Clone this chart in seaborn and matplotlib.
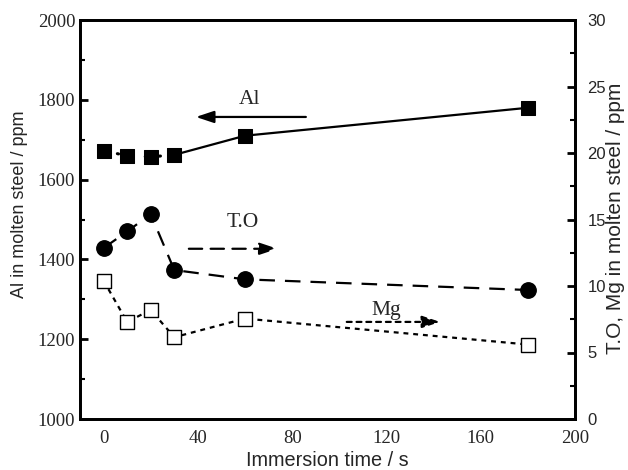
import matplotlib
matplotlib.use("Agg")
import matplotlib.pyplot as plt
import seaborn as sns
import pandas as pd
from matplotlib.ticker import MultipleLocator

time_s = [0, 10, 20, 30, 60, 180]
al_ppm = [1672, 1660, 1657, 1662, 1710, 1780]
to_ppm = [12.85, 14.1, 15.4, 11.2, 10.5, 9.7]
mg_ppm = [10.4, 7.3, 8.2, 6.15, 7.55, 5.6]

x_ticks = [0, 40, 80, 120, 160, 200]
left_ticks = [1000, 1200, 1400, 1600, 1800, 2000]
right_ticks = [0, 5, 10, 15, 20, 25, 30]

sns.set_theme(style="white")
plt.rcParams["font.family"] = ["Liberation Serif", "DejaVu Serif"]

df = pd.DataFrame({"t": time_s, "Al": al_ppm, "TO": to_ppm, "Mg": mg_ppm})

fig = plt.figure(figsize=(6.28, 4.70), dpi=100)
ax = fig.add_axes([80 / 628, 1 - 419 / 470, 495 / 628, 399 / 470])
ax2 = ax.twinx()

LW = 1.6
# Al: dotted for first four, solid afterwards
sns.lineplot(data=df.iloc[:4], x="t", y="Al", ax=ax, color="black", lw=2.2,
             linestyle=(0, (0.4, 4.2)), dash_capstyle="round")
sns.lineplot(data=df.iloc[3:], x="t", y="Al", ax=ax, color="black", lw=LW)
sns.scatterplot(data=df, x="t", y="Al", ax=ax, marker="s", s=90, color="black",
                edgecolor="black", zorder=5)

# T.O dashed
sns.lineplot(data=df, x="t", y="TO", ax=ax2, color="black", lw=LW,
             linestyle=(0, (7, 4.5)))
sns.scatterplot(data=df, x="t", y="TO", ax=ax2, marker="o", s=125, color="black",
                edgecolor="black", zorder=5)

# Mg dotted
sns.lineplot(data=df, x="t", y="Mg", ax=ax2, color="black", lw=LW,
             linestyle=(0, (2.2, 2.2)))
sns.scatterplot(data=df, x="t", y="Mg", ax=ax2, marker="s", s=90, facecolor="white",
                edgecolor="black", linewidth=1.0, zorder=5)

ax.set_xlim(-10, 200)
ax.set_ylim(1000, 2000)
ax2.set_ylim(0, 30)
ax.set_xticks(x_ticks)
ax.set_yticks(left_ticks)
ax2.set_yticks(right_ticks)
ax.xaxis.set_minor_locator(MultipleLocator(20))
ax.yaxis.set_minor_locator(MultipleLocator(100))
ax2.yaxis.set_minor_locator(MultipleLocator(2.5))

ax.set_xlabel("Immersion time / s", family=["Liberation Sans"], fontsize=14.3)
ax.xaxis.label.set_va("baseline")
ax.xaxis.set_label_coords(0.5, -(466 - 419) / 399)
ax.set_ylabel("Al in molten steel / ppm", family=["Liberation Sans"], fontsize=13)
ax.yaxis.set_label_coords(-(80 - 28) / 495, 0.537)
ax2.set_ylabel("T.O, Mg in molten steel / ppm", family=["Liberation Sans"], fontsize=15)
ax2.yaxis.set_label_coords((606 - 80) / 495, 0.503)

for a in (ax, ax2):
    for sp in a.spines.values():
        sp.set_linewidth(2)
        sp.set_color("black")
    a.tick_params(which="major", direction="in", length=6, width=2, labelsize=13.5, color="black")
    a.tick_params(which="minor", direction="in", length=3.5, width=1.5, color="black")
ax.tick_params(axis="both", which="both", top=False, right=False)
ax.tick_params(axis="x", which="major", pad=8)
ax2.tick_params(axis="y", which="both", right=True, labelsize=12, pad=9)
ax2.tick_params(axis="x", which="both", top=False, bottom=False)
for lab in ax2.get_yticklabels():
    lab.set_family(["Liberation Sans"])

# annotations
ax.annotate("", xy=(38, 1757), xytext=(87, 1757),
            arrowprops=dict(arrowstyle="-|>,head_length=0.9,head_width=0.3", color="black", lw=LW))
ax.text(62, 1800, "Al", fontsize=15.5, ha="center", va="center")

ax2.annotate("", xy=(75, 12.8), xytext=(35, 12.8),
             arrowprops=dict(arrowstyle="-|>,head_length=0.9,head_width=0.3", color="black", lw=LW,
                             linestyle=(0, (6, 3.8))))
ax.text(59, 1493, "T.O", fontsize=15.5, ha="center", va="center")

ax2.annotate("", xy=(144, 7.3), xytext=(102, 7.3),
             arrowprops=dict(arrowstyle="-|>,head_length=0.9,head_width=0.3", color="black", lw=LW,
                             linestyle=(0, (2.2, 2.2))))
ax.text(120, 1272, "Mg", fontsize=15.5, ha="center", va="center")

fig.savefig("out.png", dpi=100)
